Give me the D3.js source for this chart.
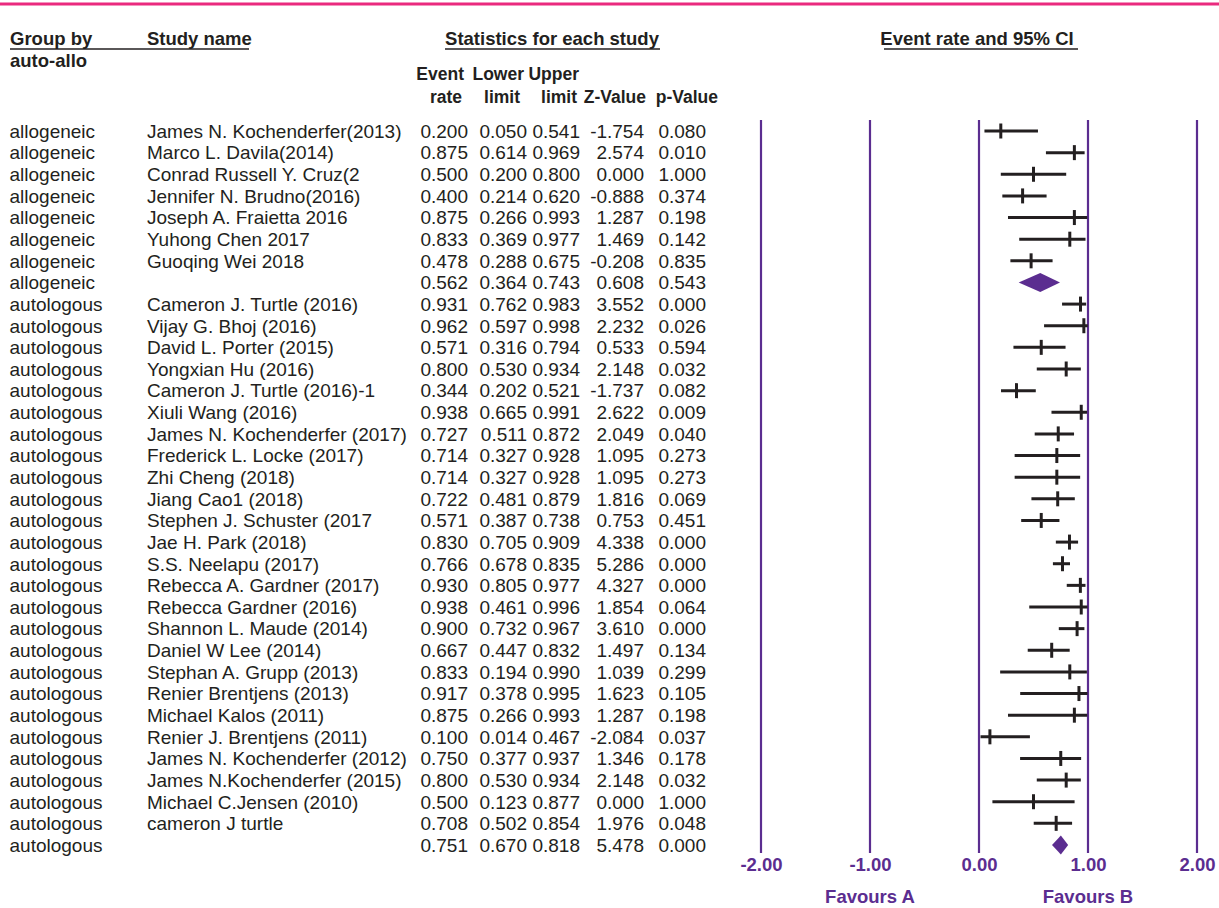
<!DOCTYPE html>
<html>
<head>
<meta charset="utf-8">
<script src="https://cdn.jsdelivr.net/npm/d3@7"></script>
<style>
  html, body { margin: 0; padding: 0; background: #fff; }
  svg text { font-family: "Liberation Sans", Arial, Helvetica, sans-serif; fill: #231f20; }
</style>
</head>
<body>
<div id="chart"></div>
<script>
// --- data ---
const groups = [
  "allogeneic","allogeneic","allogeneic","allogeneic","allogeneic","allogeneic","allogeneic","allogeneic",
  "autologous","autologous","autologous","autologous","autologous","autologous","autologous","autologous",
  "autologous","autologous","autologous","autologous","autologous","autologous","autologous","autologous",
  "autologous","autologous","autologous","autologous","autologous","autologous","autologous","autologous",
  "autologous","autologous"
];
const studies = [
  "James N. Kochenderfer(2013)", "Marco L. Davila(2014)", "Conrad Russell Y. Cruz(2",
  "Jennifer N. Brudno(2016)", "Joseph A. Fraietta 2016", "Yuhong Chen 2017", "Guoqing Wei 2018", "",
  "Cameron J. Turtle (2016)", "Vijay G. Bhoj (2016)", "David L. Porter (2015)", "Yongxian Hu (2016)",
  "Cameron J. Turtle (2016)-1", "Xiuli Wang (2016)", "James N. Kochenderfer (2017)",
  "Frederick L. Locke (2017)", "Zhi Cheng (2018)", "Jiang Cao1 (2018)", "Stephen J. Schuster (2017",
  "Jae H. Park (2018)", "S.S. Neelapu (2017)", "Rebecca A. Gardner (2017)", "Rebecca Gardner (2016)",
  "Shannon L. Maude (2014)", "Daniel W Lee (2014)", "Stephan A. Grupp (2013)", "Renier Brentjens (2013)",
  "Michael Kalos (2011)", "Renier J. Brentjens (2011)", "James N. Kochenderfer (2012)",
  "James N.Kochenderfer (2015)", "Michael C.Jensen (2010)", "cameron J turtle", ""
];
const isSummary = [0,0,0,0,0,0,0,1, 0,0,0,0,0,0,0,0,0,0,0,0,0,0,0,0,0,0,0,0,0,0,0,0,0,1];
const eventRate = [0.200,0.875,0.500,0.400,0.875,0.833,0.478,0.562,
  0.931,0.962,0.571,0.800,0.344,0.938,0.727,0.714,0.714,0.722,0.571,0.830,0.766,0.930,0.938,
  0.900,0.667,0.833,0.917,0.875,0.100,0.750,0.800,0.500,0.708,0.751];
const lowerLimit = [0.050,0.614,0.200,0.214,0.266,0.369,0.288,0.364,
  0.762,0.597,0.316,0.530,0.202,0.665,0.511,0.327,0.327,0.481,0.387,0.705,0.678,0.805,0.461,
  0.732,0.447,0.194,0.378,0.266,0.014,0.377,0.530,0.123,0.502,0.670];
const upperLimit = [0.541,0.969,0.800,0.620,0.993,0.977,0.675,0.743,
  0.983,0.998,0.794,0.934,0.521,0.991,0.872,0.928,0.928,0.879,0.738,0.909,0.835,0.977,0.996,
  0.967,0.832,0.990,0.995,0.993,0.467,0.937,0.934,0.877,0.854,0.818];
const zValue = [-1.754,2.574,0.000,-0.888,1.287,1.469,-0.208,0.608,
  3.552,2.232,0.533,2.148,-1.737,2.622,2.049,1.095,1.095,1.816,0.753,4.338,5.286,4.327,1.854,
  3.610,1.497,1.039,1.623,1.287,-2.084,1.346,2.148,0.000,1.976,5.478];
const pValue = [0.080,0.010,1.000,0.374,0.198,0.142,0.835,0.543,
  0.000,0.026,0.594,0.032,0.082,0.009,0.040,0.273,0.273,0.069,0.451,0.000,0.000,0.000,0.064,
  0.000,0.134,0.299,0.105,0.198,0.037,0.178,0.032,1.000,0.048,0.000];
const axisTicks = [-2, -1, 0, 1, 2];
const favourLabels = ["Favours A", "Favours B"];

const width = 1219, height = 908;
const purple = "#5b2d90";
const ink = "#231f20";
// plain hyphen for negatives, like the original
const locale = d3.formatLocale({ decimal: ".", thousands: ",", grouping: [3], currency: ["", ""], minus: "-" });
const fmt = locale.format(".3f");
const fmtAxis = locale.format(".2f");

const svg = d3.select("#chart").append("svg")
  .attr("width", width).attr("height", height);

// pink rule at top
svg.append("line")
  .attr("x1", 0).attr("x2", width).attr("y1", 4).attr("y2", 4)
  .attr("stroke", "#ea2a7e").attr("stroke-width", 3);

const fs = 19;      // body text
const fsb = 18.5;   // bold headers

// --- headers ---
const head = svg.append("g").style("font-weight", "bold").style("font-size", fsb + "px");
head.append("text").attr("x", 10).attr("y", 45).text("Group by");
head.append("text").attr("x", 147).attr("y", 45).text("Study name");
head.append("text").attr("x", 10).attr("y", 67).text("auto-allo");
head.append("text").attr("x", 552).attr("y", 45).attr("text-anchor", "middle").text("Statistics for each study");
head.append("text").attr("x", 977).attr("y", 45).attr("text-anchor", "middle").text("Event rate and 95% CI");

const rules = [[10, 249], [445, 660], [884, 1078]];
svg.selectAll("line.rule").data(rules).enter().append("line")
  .attr("class", "rule")
  .attr("x1", d => d[0]).attr("x2", d => d[1])
  .attr("y1", 49).attr("y2", 49)
  .attr("stroke", ink).attr("stroke-width", 1.3);

// two-line column headers (slightly smaller, as in the original)
const colHeads = [
  ["Event", "rate", 464, 462], ["Lower", "limit", 524, 520], ["Upper", "limit", 579, 577],
  ["", "Z-Value", 0, 646], ["", "p-Value", 0, 718]
];
const colHead = svg.append("g").style("font-weight", "bold").style("font-size", "17.5px");
colHeads.forEach(h => {
  if (h[0]) colHead.append("text").attr("x", h[2]).attr("y", 80).attr("text-anchor", "end").text(h[0]);
  colHead.append("text").attr("x", h[3]).attr("y", 103).attr("text-anchor", "end").text(h[1]);
});

// --- scales ---
const rows = d3.range(studies.length);
const y = d3.scalePoint().domain(rows).range([131, 845]);
const x = d3.scaleLinear().domain([-2, 2]).range([761, 1197]);

// --- table ---
const table = svg.append("g").style("font-size", fs + "px");
const numCols = [
  [eventRate, 468], [lowerLimit, 527], [upperLimit, 580], [zValue, 644], [pValue, 706]
];
rows.forEach(i => {
  const yy = y(i) + 6.8;
  table.append("text").attr("x", 9.5).attr("y", yy).text(groups[i]);
  if (studies[i]) table.append("text").attr("x", 147).attr("y", yy).text(studies[i]);
  numCols.forEach(c => {
    table.append("text").attr("x", c[1]).attr("y", yy).attr("text-anchor", "end").text(fmt(c[0][i]));
  });
});

// --- plot grid lines at ticks ---
svg.append("g").selectAll("line").data(axisTicks).enter().append("line")
  .attr("x1", d => x(d)).attr("x2", d => x(d))
  .attr("y1", 120).attr("y2", 853)
  .attr("stroke", purple).attr("stroke-width", 2.2);

// axis labels
const axis = svg.append("g")
  .attr("transform", "translate(0,856)")
  .call(d3.axisBottom(x).tickValues(axisTicks).tickFormat(fmtAxis).tickSize(0).tickPadding(0));
axis.select(".domain").remove();
axis.selectAll("text")
  .style("font-family", "'Liberation Sans', Arial, sans-serif")
  .style("font-size", fsb + "px").style("font-weight", "bold")
  .style("fill", purple).attr("dy", "0.8em");

svg.append("g").selectAll("text").data(favourLabels).enter().append("text")
  .attr("x", (d, i) => x(i === 0 ? -1 : 1)).attr("y", 903)
  .attr("text-anchor", "middle")
  .style("font-size", fsb + "px").style("font-weight", "bold").style("fill", purple)
  .text(d => d);

// --- CI lines and point markers ---
const studyRows = rows.filter(i => !isSummary[i]);
const sumRows = rows.filter(i => isSummary[i]);
const marks = svg.append("g");
marks.selectAll("line.ci").data(studyRows).enter().append("line")
  .attr("class", "ci")
  .attr("x1", i => x(lowerLimit[i])).attr("x2", i => x(upperLimit[i]))
  .attr("y1", i => y(i)).attr("y2", i => y(i))
  .attr("stroke", ink).attr("stroke-width", 3);
marks.selectAll("line.pt").data(studyRows).enter().append("line")
  .attr("class", "pt")
  .attr("x1", i => x(eventRate[i])).attr("x2", i => x(eventRate[i]))
  .attr("y1", i => y(i) - 7.5).attr("y2", i => y(i) + 7.5)
  .attr("stroke", ink).attr("stroke-width", 3);

// summary diamonds
const dh = 9.5;
marks.selectAll("path.diamond").data(sumRows).enter().append("path")
  .attr("class", "diamond")
  .attr("d", i => `M${x(lowerLimit[i])},${y(i)} L${x(eventRate[i])},${y(i) - dh} L${x(upperLimit[i])},${y(i)} L${x(eventRate[i])},${y(i) + dh} Z`)
  .attr("fill", purple);
</script>
</body>
</html>
